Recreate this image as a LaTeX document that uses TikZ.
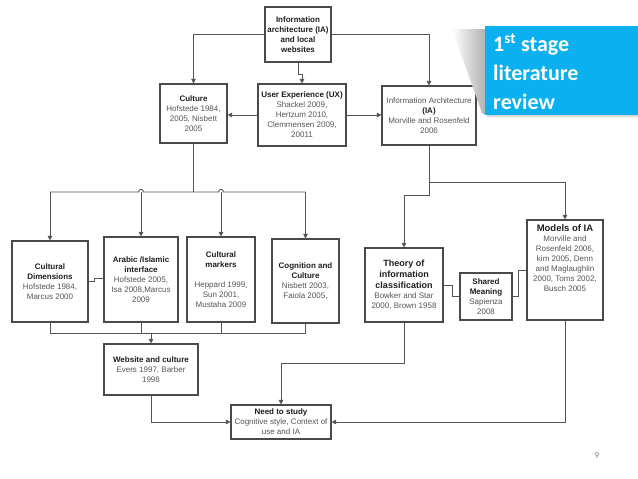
\documentclass[tikz,border=0pt]{standalone}
\usepackage{fontspec}
\setmainfont{Liberation Sans}
\newfontfamily\calibri{Carlito}
\usetikzlibrary{arrows.meta,calc}
\definecolor{boxline}{HTML}{4A4A4A}
\definecolor{conn}{HTML}{555555}
\definecolor{reftext}{HTML}{555555}
\definecolor{titletext}{HTML}{1E1E1E}
\definecolor{stageblue}{HTML}{0AB0EF}
\tikzset{
  box/.style={draw=boxline, line width=1.1pt, fill=white, inner sep=1pt, align=center,
    font=\fontsize{8}{10}\selectfont, text=reftext},
  conn/.style={draw=conn, line width=0.9pt},
  arr/.style={conn, -{Triangle[length=4.5pt,width=4.5pt]}},
}
\newcommand{\tb}[1]{\textcolor{titletext}{\textbf{#1}}}
\newcommand{\tbig}[1]{\textcolor{titletext}{\fontsize{9}{11}\selectfont\textbf{#1}}}
\newcommand{\tbigger}[1]{\textcolor{titletext}{\fontsize{9.5}{11}\selectfont\textbf{#1}}}
\begin{document}
\begin{tikzpicture}[x=1pt,y=-1pt]
\useasboundingbox[fill=white] (0,0) rectangle (638,479);

% boxes
\node[box, minimum width=66pt, minimum height=55pt] (top) at (298,34.5)
  {\tb{Information}\\\tb{architecture (IA)}\\\tb{and local}\\\tb{websites}};
\node[box, minimum width=67pt, minimum height=59pt] (culture) at (193.5,113.5)
  {\tb{Culture}\\Hofstede 1984,\\2005, Nisbett\\2005};
\node[box, minimum width=88pt, minimum height=62pt] (ux) at (302,115)
  {\tb{User Experience (UX)}\\Shackel 2009,\\Hertzum 2010,\\Clemmensen 2009,\\20011};
\node[box, minimum width=94pt, minimum height=59pt] (ia) at (429,115.5)
  {Information Architecture\\\tb{(IA)}\\Morville and Rosenfeld\\2006};
\node[box, minimum width=76pt, minimum height=81pt] (cd) at (50,281.5)
  {\tb{Cultural}\\\tb{Dimensions}\\Hofstede 1984,\\Marcus 2000};
\node[box, minimum width=74pt, minimum height=85pt] (arabic) at (141,279.5)
  {\tb{Arabic /Islamic}\\\tb{interface}\\Hofstede 2005,\\Isa 2008,Marcus\\2009};
\node[box, minimum width=68pt, minimum height=85pt] (markers) at (221,279.5)
  {\tb{Cultural}\\\tb{markers}\\[10pt]Heppard 1999,\\Sun 2001,\\Mustaha 2009};
\node[box, minimum width=67pt, minimum height=84pt] (cog) at (305.5,281)
  {\tb{Cognition and}\\\tb{Culture}\\Nisbett 2003,\\Faiola 2005,};
\node[box, minimum width=78pt, minimum height=74pt] (theory) at (404,285)
  {\tbig{Theory of}\\[1pt]\tbig{information}\\[1pt]\tbig{classification}\\Bowker and Star\\2000, Brown 1958};
\node[box, minimum width=52pt, minimum height=47pt] (shared) at (486,296.5)
  {\tb{Shared}\\\tb{Meaning}\\Sapienza\\2008};
\node[box, minimum width=76pt, minimum height=100pt] (models) at (565,270) {};
\node[anchor=north, align=center, inner sep=0pt, font=\fontsize{8}{10}\selectfont, text=reftext]
  (modelstext) at (565,224)
  {\tbigger{Models of IA}\\Morville and\\Rosenfeld 2006,\\kim 2005, Denn\\and Maglaughlin\\2000, Toms 2002,\\Busch 2005};
\node[box, minimum width=94pt, minimum height=51pt] (web) at (151,369.5)
  {\tb{Website and culture}\\Evers 1997, Barber\\1998};
\node[box, minimum width=100pt, minimum height=34pt] (need) at (281,422)
  {\tb{Need to study}\\Cognitive style, Context of\\use and IA};

% top level connectors
\draw[arr] (top.west) -| (culture.north);
\draw[arr] (top.east) -| (ia.north);
\draw[arr] (top.south) -- ++(0,12) -| (ux.north);
\draw[arr] (ux.west) -- (ux.west -| culture.east);
\draw[arr] (ux.east) -- (ux.east -| ia.west);

% culture branches
\draw[conn] (culture.south) -- (culture.south |- 0,192);
\draw[conn] (cd.north |- 0,192) -- (138.5,192) .. controls (138.5,188.5) and (143.5,188.5) .. (143.5,192)
  -- (218.5,192) .. controls (218.5,188.5) and (223.5,188.5) .. (223.5,192) -- (cog.north |- 0,192);
\draw[arr] (cd.north |- 0,192) -- (cd.north);
\draw[arr] (arabic.north |- 0,192) -- (arabic.north);
\draw[arr] (markers.north |- 0,192) -- (markers.north);
\draw[arr] (cog.north |- 0,192) -- (cog.north);
\draw[conn] (cd.east) -- ++(6,0) -- ++(0,-3) -- (arabic.west |- 0,278.5);

% merge to website
\draw[conn] (cd.south) -- (cd.south |- 0,333) -- (cog.south |- 0,333) -- (cog.south);
\draw[conn] (arabic.south) -- (arabic.south |- 0,333);
\draw[conn] (markers.south) -- (markers.south |- 0,333);
\draw[arr] (web.north |- 0,333) -- (web.north);
\draw[arr] (web.south) |- (need.west);

% IA branches
\draw[conn] (ia.south) -- ++(0,37);
\draw[arr] (ia.south) ++(0,37) -| (models.north);
\draw[arr] (ia.south) -- ++(0,50) -| (theory.north);
\draw[conn] (theory.east) -- ++(9,0) |- (shared.west);
\draw[conn] (shared.east) -- ++(6,0) |- (models.west);
\draw[arr] (theory.south) -- ++(0,41) -| (need.north);
\draw[arr] (models.south) |- (need.east);

% stage label
\shade[left color=white, right color=gray!60] (452,29) -- (485,29) -- (485,115) -- (482,113) -- cycle;
\shade[top color=gray!35, bottom color=white] (487,115) rectangle (638,118);
\node[fill=stageblue, minimum width=153pt, minimum height=89pt, inner sep=0pt] (stage) at (561.5,70.5) {};
\node[anchor=north west, align=left, inner sep=0pt, text=white, font=\calibri\bfseries\fontsize{22}{29}\selectfont]
  (stagetext) at (493,34) {1\textsuperscript{st} stage\\literature\\review};

% page number
\node[text=gray, font=\calibri\fontsize{9}{10}\selectfont, inner sep=0pt] (pagenum) at (597,456) {9};
\end{tikzpicture}
\end{document}
